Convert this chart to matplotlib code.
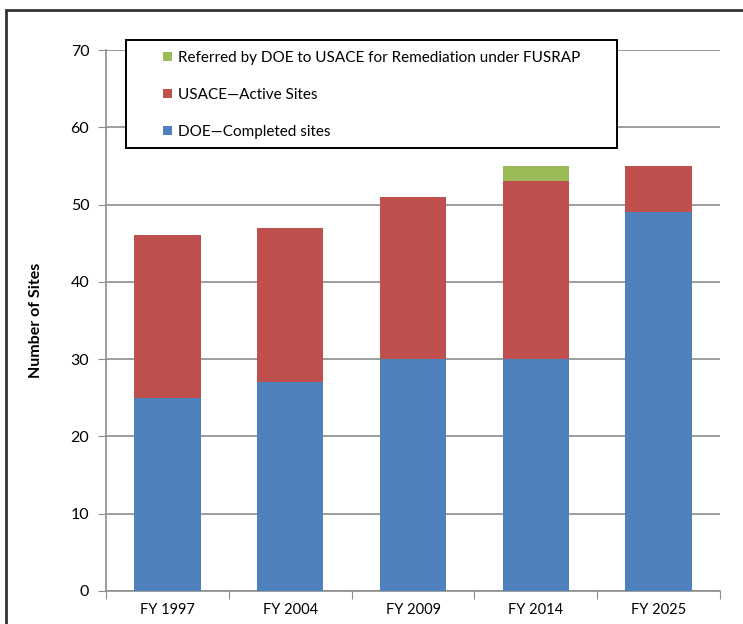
import numpy as np
import matplotlib.pyplot as plt
from matplotlib.patches import Rectangle

plt.rcParams['font.family'] = ['Lato', 'DejaVu Sans']

years = ['FY 1997', 'FY 2004', 'FY 2009', 'FY 2014', 'FY 2025']
doe_completed = [25, 27, 30, 30, 49]
usace_active = [21, 20, 21, 23, 6]
referred = [0, 0, 0, 2, 0]

blue = '#4F81BD'
red = '#C0504D'
green = '#9BBB59'
grid_col = '#8C8C8C'

W, H = 743, 624
fig = plt.figure(figsize=(W / 100, H / 100), dpi=100)
ax = fig.add_axes([106 / W, 33 / H, 614 / W, 541 / H])

x = np.arange(len(years))
bottom2 = np.array(doe_completed)
bottom3 = bottom2 + np.array(usace_active)
ax.bar(x, doe_completed, width=0.54, color=blue, label='DOE\u2014Completed sites', zorder=3)
ax.bar(x, usace_active, width=0.54, bottom=bottom2, color=red,
       label='USACE\u2014Active Sites', zorder=3)
ax.bar(x, referred, width=0.54, bottom=bottom3, color=green,
       label='Referred by DOE to USACE for Remediation under FUSRAP', zorder=3)

ax.set_xlim(-0.5, len(years) - 0.5)
ax.set_ylim(0, 70)
ax.set_yticks(range(0, 71, 10))
ax.yaxis.grid(True, color=grid_col, linewidth=1.2, zorder=0)

# ticks sit on category boundaries, labels in the middle
ax.set_xticks(np.arange(-0.5, len(years)))
ax.set_xticklabels([])
ax.set_xticks(x, minor=True)
ax.set_xticklabels(years, minor=True)
ax.tick_params(axis='x', which='major', length=6, color=grid_col, direction='out')
ax.tick_params(axis='x', which='minor', length=0, pad=9, labelsize=10.5)
ax.tick_params(axis='y', length=6, color=grid_col, labelsize=11.5, pad=6)

for side in ['top', 'right']:
    ax.spines[side].set_visible(False)
for side in ['left', 'bottom']:
    ax.spines[side].set_color(grid_col)
    ax.spines[side].set_linewidth(1.2)

ax.set_ylabel('Number of Sites', fontsize=11.5, fontweight='bold', labelpad=20)

# legend box
ax.add_patch(Rectangle((126 / W, 1 - 148 / H), (617 - 126) / W, 108 / H,
                       transform=fig.transFigure, facecolor='white',
                       edgecolor='black', linewidth=1.4, clip_on=False, zorder=4))
handles, labels = ax.get_legend_handles_labels()
leg = ax.legend(handles[::-1], labels[::-1], loc='upper left',
                bbox_to_anchor=(163 / W, 1 - 51 / H), bbox_transform=fig.transFigure,
                frameon=False, fontsize=11, handlelength=0.6, handleheight=0.6,
                handletextpad=0.35, labelspacing=1.5, borderpad=0,
                borderaxespad=0)
leg.set_zorder(5)

# outer frame
fig.patches.append(Rectangle((6 / W, -0.05), 800 / W, 1 - 10 / H + 0.05,
                             transform=fig.transFigure, fill=False,
                             edgecolor='#333333', linewidth=2))

fig.savefig('out.png', dpi=100)
